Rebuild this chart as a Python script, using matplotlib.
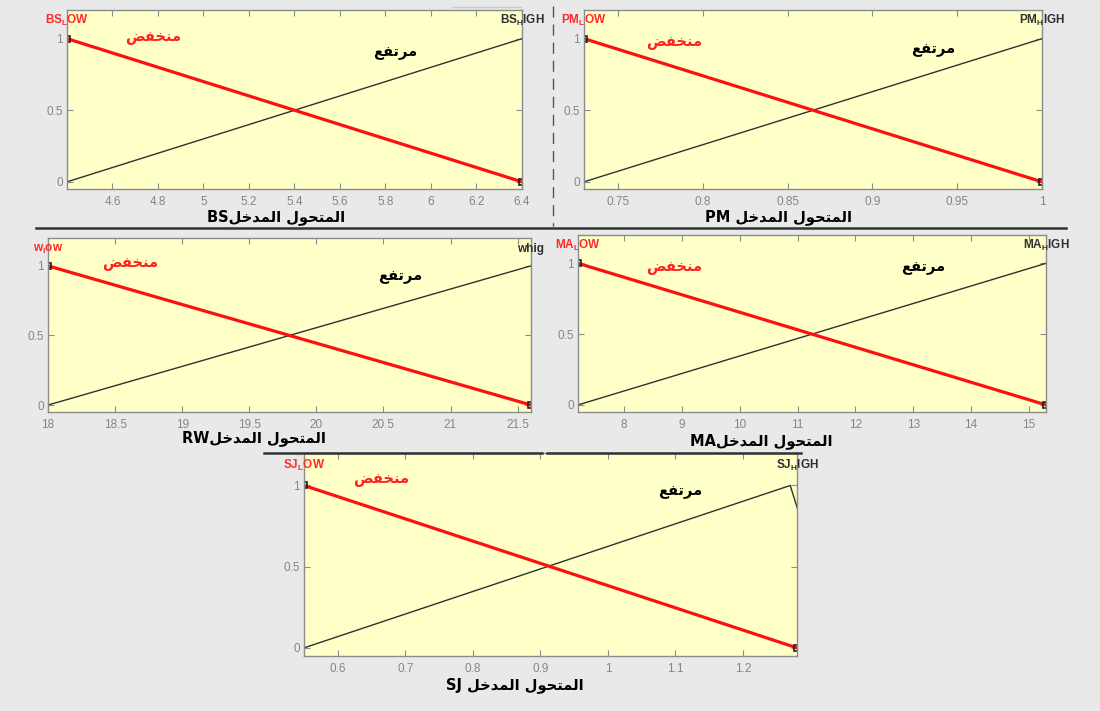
import matplotlib.pyplot as plt
from matplotlib.lines import Line2D
from matplotlib.ticker import FuncFormatter

plt.rcParams['font.family'] = ['Liberation Sans', 'DejaVu Sans']
plt.rcParams['mathtext.fontset'] = 'custom'
plt.rcParams['mathtext.rm'] = 'Liberation Sans'
plt.rcParams['mathtext.bf'] = 'Liberation Sans:bold'

W, H = 1100, 711

# arabic words given as presentation forms in visual order
# (matplotlib does no joining / right-to-left layout itself)
LOW_AR = '\uFEBE\uFED4\uFEA8\uFEE8\uFEE3'        # منخفض
HIGH_AR = '\uFECA\uFED4\uFE97\uFEAE\uFEE3'       # مرتفع
INPUT_AR = ('\uFEDE\uFEA7\uFEAA\uFEE4\uFEDF\uFE8D' + ' ' +
            '\uFEDD\uFEEE\uFEA4\uFE98\uFEE4\uFEDF\uFE8D')  # المتحول المدخل

# ---- data ----
bs_range = [4.4, 6.4]
bs_ticks = [4.6, 4.8, 5, 5.2, 5.4, 5.6, 5.8, 6, 6.2, 6.4]
bs_low_x, bs_low_y = [4.4, 6.4], [1, 0]
bs_high_x, bs_high_y = [4.4, 6.4], [0, 1]

pm_range = [0.73, 1.0]
pm_ticks = [0.75, 0.8, 0.85, 0.9, 0.95, 1]
pm_low_x, pm_low_y = [0.73, 1.0], [1, 0]
pm_high_x, pm_high_y = [0.73, 1.0], [0, 1]

rw_range = [18, 21.6]
rw_ticks = [18, 18.5, 19, 19.5, 20, 20.5, 21, 21.5]
rw_low_x, rw_low_y = [18, 21.6], [1, 0]
rw_high_x, rw_high_y = [18, 21.6], [0, 1]

ma_range = [7.2, 15.3]
ma_ticks = [8, 9, 10, 11, 12, 13, 14, 15]
ma_low_x, ma_low_y = [7.2, 15.3], [1, 0]
ma_high_x, ma_high_y = [7.2, 15.3], [0, 1]

sj_range = [0.55, 1.28]
sj_ticks = [0.6, 0.7, 0.8, 0.9, 1, 1.1, 1.2]
sj_low_x, sj_low_y = [0.55, 1.28], [1, 0]
sj_high_x, sj_high_y = [0.55, 1.27, 1.345], [0, 1, 0]

yticks = [0, 0.5, 1]

panels = [
    dict(rng=bs_range, ticks=bs_ticks, lx=bs_low_x, ly=bs_low_y, hx=bs_high_x, hy=bs_high_y,
         lname=r'BS$_\mathbf{L}$OW', hname=r'BS$_\mathbf{H}$IGH', var='BS', gap=''),
    dict(rng=pm_range, ticks=pm_ticks, lx=pm_low_x, ly=pm_low_y, hx=pm_high_x, hy=pm_high_y,
         lname=r'PM$_\mathbf{L}$OW', hname=r'PM$_\mathbf{H}$IGH', var='PM', gap=' '),
    dict(rng=rw_range, ticks=rw_ticks, lx=rw_low_x, ly=rw_low_y, hx=rw_high_x, hy=rw_high_y,
         lname=r'w$_\mathbf{l}$ow', hname='whig', var='RW', gap=''),
    dict(rng=ma_range, ticks=ma_ticks, lx=ma_low_x, ly=ma_low_y, hx=ma_high_x, hy=ma_high_y,
         lname=r'MA$_\mathbf{L}$OW', hname=r'MA$_\mathbf{H}$IGH', var='MA', gap=''),
    dict(rng=sj_range, ticks=sj_ticks, lx=sj_low_x, ly=sj_low_y, hx=sj_high_x, hy=sj_high_y,
         lname=r'SJ$_\mathbf{L}$OW', hname=r'SJ$_\mathbf{H}$IGH', var='SJ', gap=' '),
]

# ---- layout (pixel boxes of the five screenshots, text spots in axes fraction) ----
boxes = [(67, 10, 522, 189), (584, 10, 1042, 189), (48, 238, 531, 412),
         (578, 235, 1046, 412), (304, 453, 797, 656)]
low_pos = [(0.189, 0.844), (0.197, 0.816), (0.170, 0.856), (0.205, 0.819), (0.156, 0.867)]
high_pos = [(0.721, 0.760), (0.762, 0.777), (0.729, 0.776), (0.737, 0.819), (0.763, 0.808)]
xlab_pos = [(0.46, -0.158), (0.424, -0.158), (0.427, -0.152), (0.391, -0.162), (0.428, -0.145)]

fig = plt.figure(figsize=(W / 100, H / 100), dpi=100, facecolor='#e9e9e9')

fmt = FuncFormatter(lambda v, p: '{:g}'.format(round(v, 4)))

for i, p in enumerate(panels):
    x0, y0, x1, y1 = boxes[i]
    ax = fig.add_axes([x0 / W, 1 - y1 / H, (x1 - x0) / W, (y1 - y0) / H])
    ax.set_facecolor('#ffffc8')
    ax.plot(p['hx'], p['hy'], color='#303030', lw=1.0)
    ax.plot(p['lx'], p['ly'], color='#ff1010', lw=2.3)
    ax.plot([p['lx'][0], p['lx'][-1]], [p['ly'][0], p['ly'][-1]], 's', ms=4.5,
            mfc='none', mec='#202020', mew=1.2)
    ax.set_xlim(p['rng'])
    ax.set_ylim(-0.05, 1.2)
    ax.set_xticks(p['ticks'])
    ax.set_yticks(yticks)
    ax.xaxis.set_major_formatter(fmt)
    ax.yaxis.set_major_formatter(fmt)
    ax.tick_params(direction='in', length=4, width=0.8, color='#8c8c8c',
                   labelcolor='#858585', labelsize=8.5, top=True, right=True)
    ax.tick_params(axis='x', pad=5)
    ax.tick_params(axis='y', pad=3)
    for s in ax.spines.values():
        s.set_color('#8c8c8c')
        s.set_linewidth(1)

    ax.text(p['rng'][0], 1.1, p['lname'], color='#ff2a2a', ha='center', va='baseline',
            fontsize=8.5, fontweight='bold', clip_on=False)
    ax.text(p['rng'][1], 1.1, p['hname'], color='#303030', ha='center', va='baseline',
            fontsize=8.5, fontweight='bold', clip_on=False)
    ax.text(*low_pos[i], LOW_AR, transform=ax.transAxes, color='#ff2020', ha='center',
            va='center', fontsize=10.5, fontweight='bold', family='DejaVu Sans')
    ax.text(*high_pos[i], HIGH_AR, transform=ax.transAxes, color='black', ha='center',
            va='center', fontsize=10.5, fontweight='bold', family='DejaVu Sans')
    ax.text(*xlab_pos[i], p['var'] + p['gap'] + INPUT_AR, transform=ax.transAxes,
            color='black', ha='center', va='center', fontsize=10.5, fontweight='bold',
            family=['DejaVu Sans'])


def sep(xa, ya, xb, yb, **kw):
    fig.add_artist(Line2D([xa / W, xb / W], [1 - ya / H, 1 - yb / H],
                          transform=fig.transFigure, **kw))


# screenshot borders between the pieces
sep(36, 228, 1066, 228, color='#333333', lw=1.8)
sep(264, 453, 542, 453, color='#333333', lw=1.8)
sep(547, 453, 801, 453, color='#333333', lw=1.8)
sep(553, 6, 553, 226, color='#555555', lw=1.0, ls=(0, (8, 5)))
sep(453, 7, 521, 7, color='#c8c8c8', lw=1.0)

fig.savefig('out.png', dpi=100, facecolor=fig.get_facecolor())
